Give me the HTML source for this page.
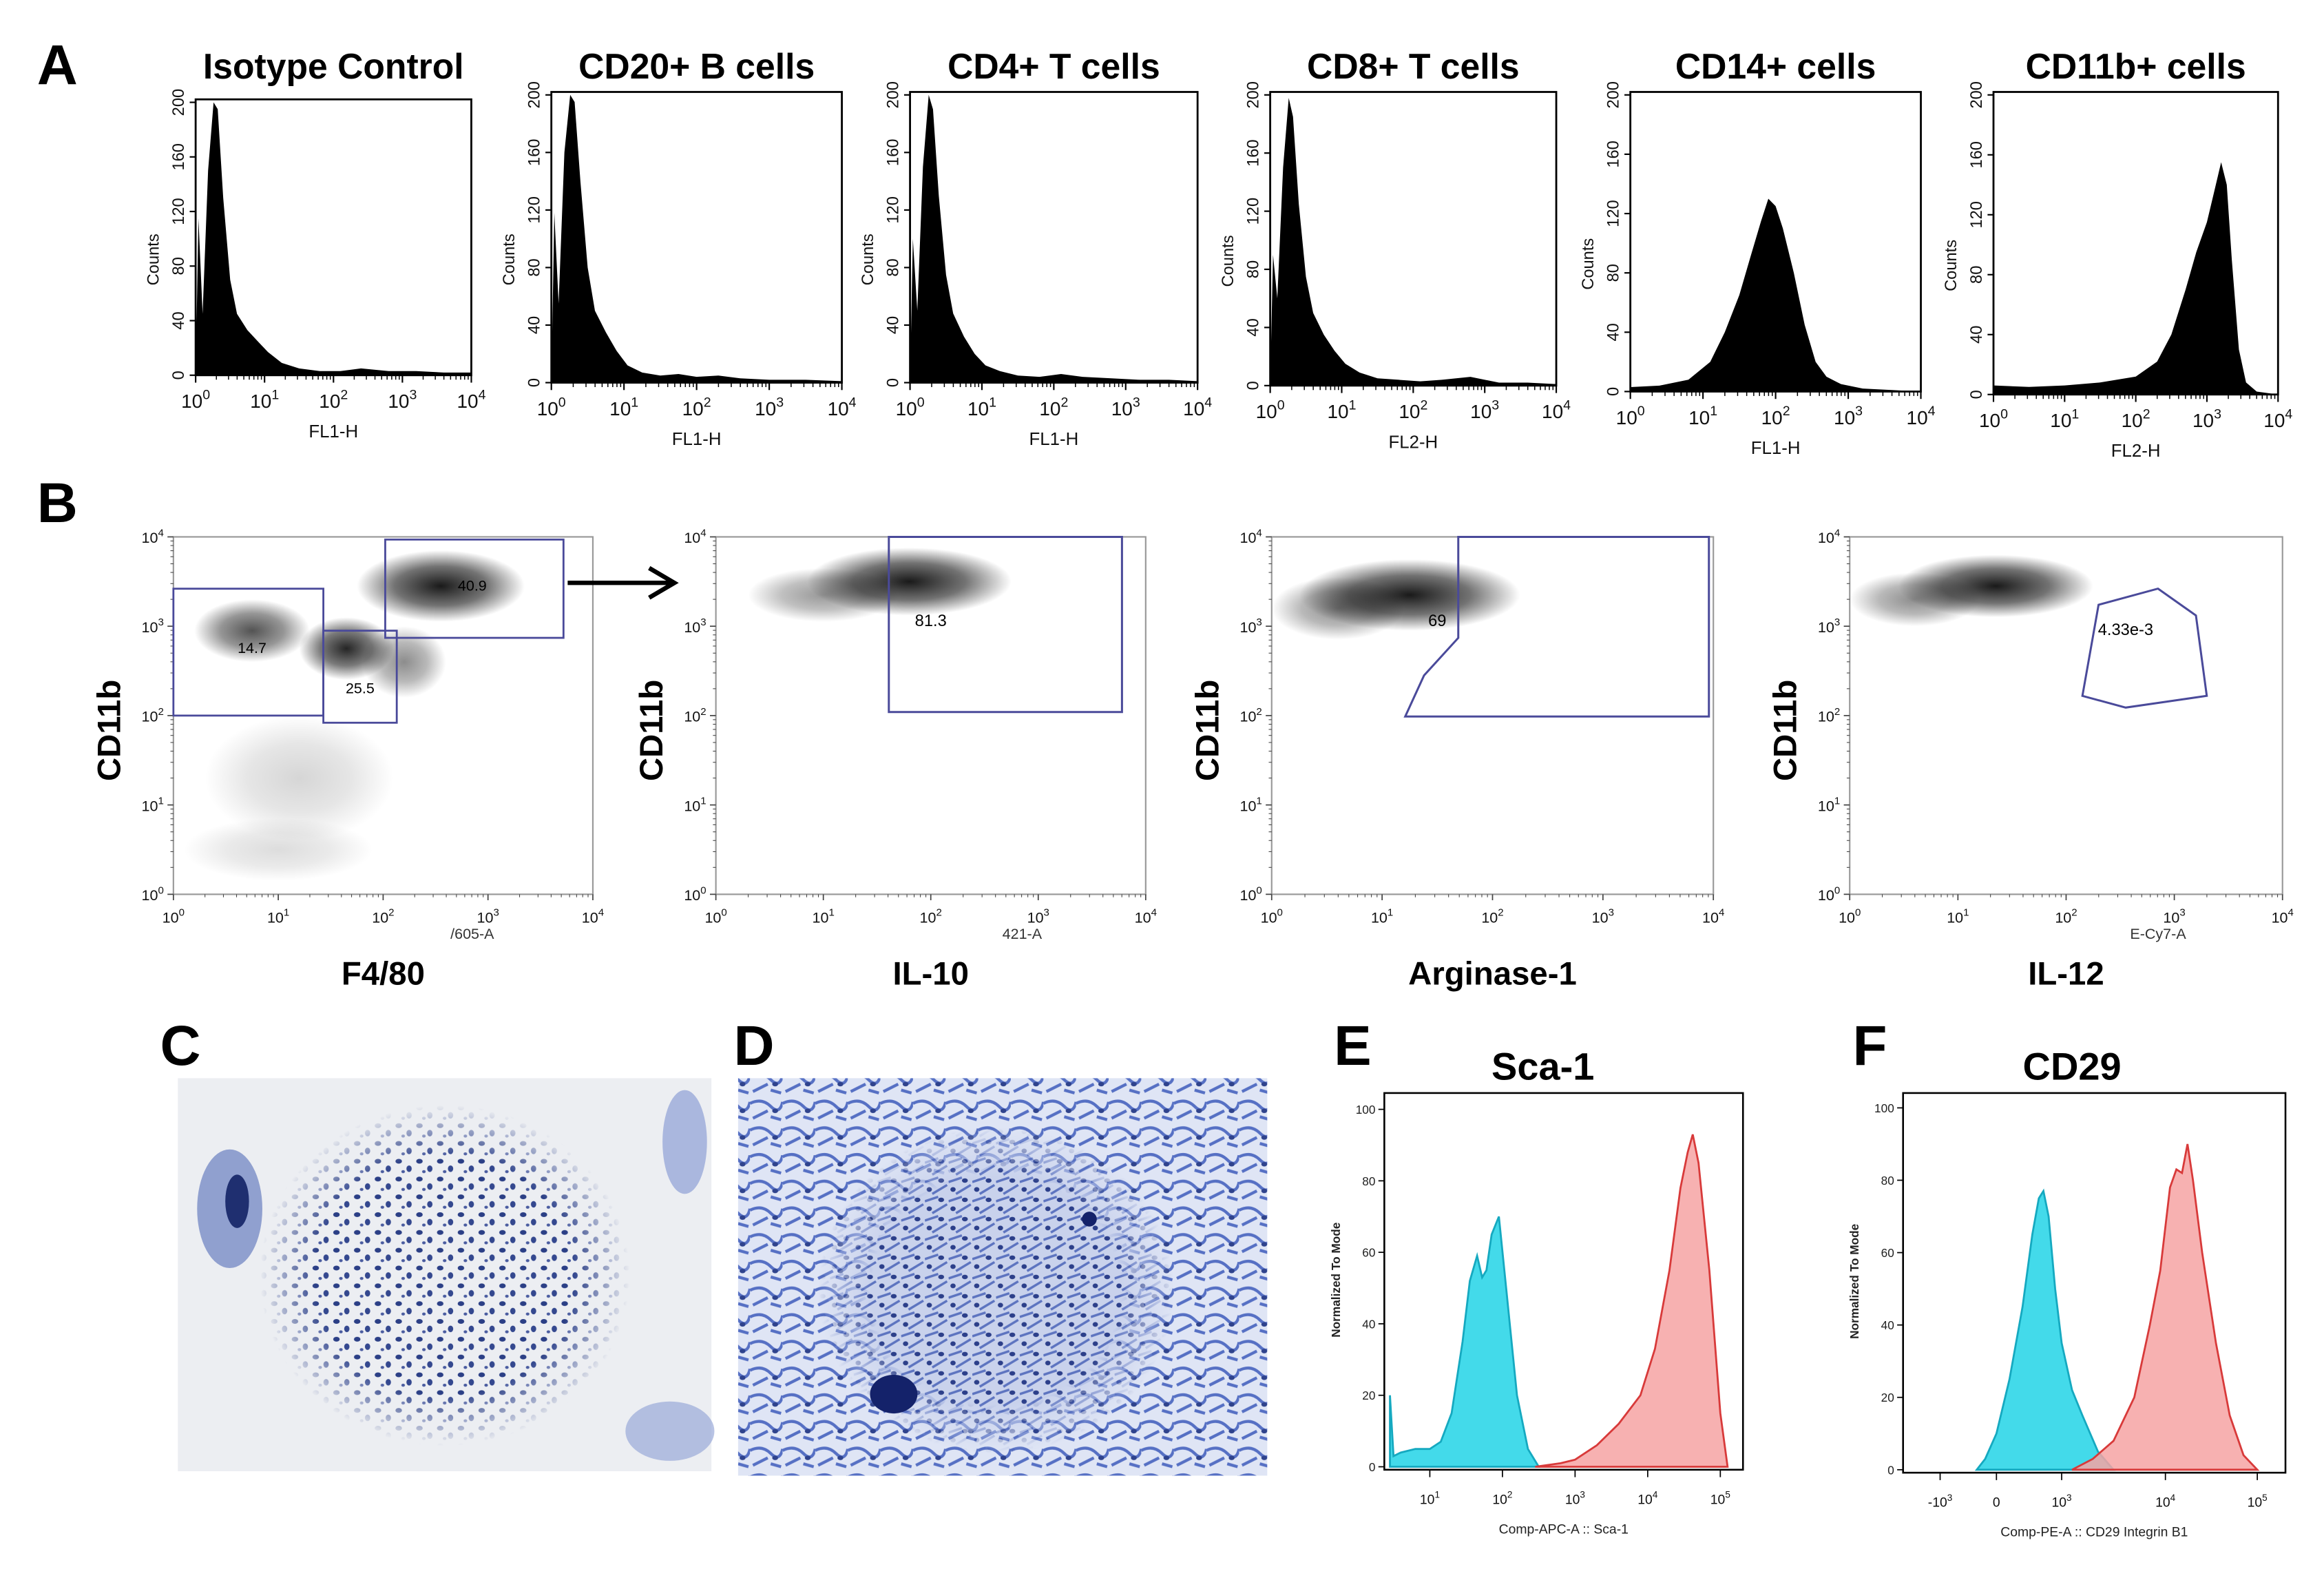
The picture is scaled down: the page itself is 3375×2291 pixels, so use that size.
<!DOCTYPE html>
<html><head><meta charset="utf-8"><style>
html,body{margin:0;padding:0;background:#fff;}
svg{display:block;font-family:"Liberation Sans",sans-serif;}
</style></head><body>
<svg id="fig" width="3375" height="2291" viewBox="0 0 1568 1064" preserveAspectRatio="none" xmlns="http://www.w3.org/2000/svg">
<defs>
<radialGradient id="dotg"><stop offset="0" stop-color="#000" stop-opacity="0.9"/><stop offset="0.55" stop-color="#000" stop-opacity="0.55"/><stop offset="1" stop-color="#000" stop-opacity="0"/></radialGradient>
<pattern id="cellsC" width="14" height="12" patternUnits="userSpaceOnUse">
<ellipse cx="3" cy="3" rx="2.2" ry="1.6" fill="#2b3f86"/><ellipse cx="10" cy="8" rx="1.8" ry="2.2" fill="#34488f"/><ellipse cx="6" cy="10" rx="1.2" ry="1" fill="#4a5ca0"/></pattern>
<pattern id="cellsD" width="16" height="13" patternUnits="userSpaceOnUse">
<rect width="16" height="13" fill="#c9d2ec"/><path d="M0 4 L9 1 M5 12 L15 6" stroke="#5d74c0" stroke-width="1.6"/><ellipse cx="11" cy="3" rx="2" ry="1.5" fill="#2c3f8a"/><ellipse cx="3" cy="9" rx="1.8" ry="1.6" fill="#2c3f8a"/></pattern>
<pattern id="streaksD" width="22" height="18" patternUnits="userSpaceOnUse">
<rect width="22" height="18" fill="#dfe5f5"/><path d="M0 6 Q8 2 14 8 T22 5 M2 16 L12 11 M14 15 L21 17" stroke="#5670c4" stroke-width="2" fill="none"/><ellipse cx="17" cy="11" rx="2" ry="1.5" fill="#2f438d"/></pattern>
<radialGradient id="fadeC"><stop offset="0" stop-color="#fff" stop-opacity="1"/><stop offset="0.7" stop-color="#fff" stop-opacity="1"/><stop offset="1" stop-color="#fff" stop-opacity="0"/></radialGradient>
<mask id="maskC"><ellipse cx="300" cy="860" rx="125" ry="115" fill="url(#fadeC)"/></mask>
<mask id="maskD"><ellipse cx="672" cy="870" rx="120" ry="110" fill="url(#fadeC)"/></mask>
</defs>
</svg>
<script>
const NS='http://www.w3.org/2000/svg';
const svg=document.getElementById('fig');
function mk(tag,attrs,parent){const e=document.createElementNS(NS,tag);for(const k in attrs)e.setAttribute(k,attrs[k]);(parent||svg).appendChild(e);return e;}

/* ---------- Panel A data ---------- */
const aTitles=['Isotype Control','CD20+ B cells','CD4+ T cells','CD8+ T cells','CD14+ cells','CD11b+ cells'];
const aXLabels=['FL1-H','FL1-H','FL1-H','FL2-H','FL1-H','FL2-H'];
const aYTicks=[0,40,80,120,160,200];
const logTicks=[0,1,2,3,4];
const isoX=[0,0.04,0.1,0.18,0.26,0.32,0.4,0.5,0.6,0.75,0.9,1.05,1.25,1.5,1.8,2.1,2.4,2.8,3.2,3.6,4];
const isoY=[0,115,45,150,200,195,130,70,45,33,25,17,9,5,3,3,5,3,3,2,2];
const cd20X=[0,0.04,0.1,0.18,0.26,0.32,0.4,0.5,0.6,0.75,0.9,1.05,1.25,1.5,1.75,2.0,2.3,2.6,3,3.5,4];
const cd20Y=[0,118,55,160,200,195,140,80,50,35,22,12,7,5,6,4,5,3,2,2,1];
const cd4X=[0,0.04,0.1,0.18,0.26,0.32,0.4,0.5,0.6,0.75,0.9,1.05,1.25,1.5,1.8,2.1,2.4,2.8,3.2,3.6,4];
const cd4Y=[0,100,50,150,200,190,130,75,48,32,20,12,8,5,4,6,4,3,2,2,1];
const cd8X=[0,0.04,0.1,0.18,0.26,0.32,0.4,0.5,0.6,0.75,0.9,1.05,1.25,1.5,1.8,2.1,2.4,2.8,3.2,3.6,4];
const cd8Y=[0,90,60,150,198,185,125,75,50,35,24,15,9,5,4,3,4,6,2,2,1];
const cd14X=[0,0.4,0.8,1.1,1.3,1.5,1.65,1.8,1.9,2.0,2.1,2.25,2.4,2.55,2.7,2.9,3.2,3.6,4];
const cd14Y=[3,4,8,20,40,65,90,115,130,125,110,80,45,20,10,5,2,1,0];
const cd11X=[0,0.5,1,1.5,2,2.3,2.5,2.7,2.85,3.0,3.1,3.2,3.28,3.35,3.45,3.55,3.7,4];
const cd11Y=[6,5,6,8,12,22,40,70,95,115,135,155,140,90,30,8,2,0];
const aSeriesX=[isoX,cd20X,cd4X,cd8X,cd14X,cd11X];
const aSeriesY=[isoY,cd20Y,cd4Y,cd8Y,cd14Y,cd11Y];
const aBoxes=[[132,318,67,253],[372,568,62,258],[614,808,62,258],[857,1050,62,260],[1100,1296,62,264],[1345,1537,62,266]];

function supLabel(g,x,y,base,exp,fs,name){
  const t=mk('text',{x:x,y:y,'font-size':fs,'text-anchor':'middle',fill:'#111'},g);
  
  
  t.appendChild(document.createTextNode(base));
  const s=mk('tspan',{dy:-fs*0.45,'font-size':fs*0.7},t);
  s.textContent=exp;
  return t;
}

aBoxes.forEach((b,i)=>{
  const [x0,x1,y0,y1]=b;
  const g=mk('g',{});
  
  
  const xs=v=>x0+(x1-x0)*v/4;
  const ys=v=>y1-(y1-y0-2)*v/200;
  let d='M'+xs(aSeriesX[i][0])+' '+ys(0);
  aSeriesX[i].forEach((v,k)=>{d+=' L'+xs(v).toFixed(1)+' '+ys(aSeriesY[i][k]).toFixed(1);});
  d+=' L'+xs(aSeriesX[i][aSeriesX[i].length-1])+' '+ys(0)+' Z';
  const p=mk('path',{d:d,fill:'#000'},g);
  
  
  const r=mk('rect',{x:x0,y:y0,width:x1-x0,height:y1-y0,fill:'none',stroke:'#000','stroke-width':1.3},g);
  
  
  const tt=mk('text',{x:(x0+x1)/2,y:53,'font-size':24,'font-weight':'bold','text-anchor':'middle',fill:'#000'},g);
  
  
  tt.textContent=aTitles[i];
  aYTicks.forEach(v=>{
    mk('line',{x1:x0-4,x2:x0,y1:ys(v),y2:ys(v),stroke:'#000','stroke-width':1},g);
    const yt=mk('text',{x:0,y:0,'font-size':11,'text-anchor':'middle',fill:'#111',transform:'translate('+(x0-8)+','+ys(v)+') rotate(-90)'},g);
    
    
    yt.textContent=v;
  });
  const yl=mk('text',{x:0,y:0,'font-size':11,'text-anchor':'middle',fill:'#111',transform:'translate('+(x0-25)+','+((y0+y1)/2+15)+') rotate(-90)'},g);
  
  
  yl.textContent='Counts';
  logTicks.forEach(v=>{
    mk('line',{x1:xs(v),x2:xs(v),y1:y1,y2:y1+5,stroke:'#000','stroke-width':1},g);
    supLabel(g,xs(v),y1+22,'10',String(v),13,'x-tick-label');
    if(v<4)for(let m=2;m<10;m++){const xm=xs(v+Math.log10(m));mk('line',{x1:xm,x2:xm,y1:y1,y2:y1+3,stroke:'#000','stroke-width':0.7},g);}
  });
  const xl=mk('text',{x:(x0+x1)/2,y:y1+42,'font-size':12,'text-anchor':'middle',fill:'#111'},g);
  
  
  xl.textContent=aXLabels[i];
});

/* ---------- Panel B data ---------- */
const bXLabels=['F4/80','IL-10','Arginase-1','IL-12'];
const bSmall=['/605-A','421-A','','E-Cy7-A'];
const bBoxes=[[117,400,362,603],[483,773,362,603],[858,1156,362,603],[1248,1540,362,603]];
const b1ClX=[2.55,1.65,0.75,1.2,1.0,2.2];const b1ClY=[3.45,2.75,2.95,1.3,0.5,2.6];
const b1ClRX=[0.8,0.45,0.55,0.9,0.9,0.4];const b1ClRY=[0.4,0.35,0.35,0.7,0.35,0.4];const b1ClOp=[1,0.95,0.75,0.18,0.15,0.5];
const b2ClX=[1.8,1.0];const b2ClY=[3.5,3.35];const b2ClRX=[0.95,0.7];const b2ClRY=[0.38,0.3];const b2ClOp=[1,0.45];
const b3ClX=[1.25,0.6];const b3ClY=[3.35,3.2];const b3ClRX=[1.0,0.6];const b3ClRY=[0.4,0.35];const b3ClOp=[1,0.5];
const b4ClX=[1.35,0.6];const b4ClY=[3.45,3.3];const b4ClRX=[0.9,0.6];const b4ClRY=[0.35,0.3];const b4ClOp=[1,0.5];
const bClusters=[[b1ClX,b1ClY,b1ClRX,b1ClRY,b1ClOp],[b2ClX,b2ClY,b2ClRX,b2ClRY,b2ClOp],[b3ClX,b3ClY,b3ClRX,b3ClRY,b3ClOp],[b4ClX,b4ClY,b4ClRX,b4ClRY,b4ClOp]];
const b1GateRects=[[0,1.43,2.0,3.42],[1.43,2.13,1.92,2.95],[2.02,3.72,2.87,3.97]];
const b1GateLabels=['14.7','25.5','40.9'];const b1GateLabelPos=[[0.75,2.7],[1.78,2.25],[2.85,3.4]];
const b2GateX=[1.61,3.78,3.78,1.61];const b2GateY=[4,4,2.04,2.04];
const b3GateX=[1.69,1.69,1.38,1.21,3.96,3.96];const b3GateY=[4,2.87,2.45,1.99,1.99,4];
const b4GateX=[2.3,2.15,2.55,3.3,3.2,2.85];const b4GateY=[3.24,2.22,2.09,2.22,3.12,3.42];
const bGateLabels=['81.3','69','4.33e-3'];const bGateLabelPos=[[2.0,3.0],[1.5,3.0],[2.55,2.9]];

bBoxes.forEach((b,i)=>{
  const [x0,x1,y0,y1]=b;
  const g=mk('g',{});
  
  
  const xs=v=>x0+(x1-x0)*v/4;
  const ys=v=>y1-(y1-y0)*v/4;
  const cl=bClusters[i];
  cl[0].forEach((cx,k)=>{
    const e=mk('ellipse',{cx:xs(cx),cy:ys(cl[1][k]),rx:(x1-x0)*cl[2][k]/4,ry:(y1-y0)*cl[3][k]/4,fill:'url(#dotg)',opacity:cl[4][k]},g);
    
    
  });
  const r=mk('rect',{x:x0,y:y0,width:x1-x0,height:y1-y0,fill:'none',stroke:'#999','stroke-width':1},g);
  
  
  logTicks.forEach(v=>{
    mk('line',{x1:xs(v),x2:xs(v),y1:y1,y2:y1+4,stroke:'#444','stroke-width':0.8},g);
    supLabel(g,xs(v),y1+19,'10',String(v),10,'x-tick-label');
    mk('line',{x1:x0-4,x2:x0,y1:ys(v),y2:ys(v),stroke:'#444','stroke-width':0.8},g);
    supLabel(g,x0-14,ys(v)+4,'10',String(v),10,'y-tick-label');
    if(v<4)for(let m=2;m<10;m++){const q=v+Math.log10(m);mk('line',{x1:xs(q),x2:xs(q),y1:y1,y2:y1+2,stroke:'#444','stroke-width':0.5},g);mk('line',{x1:x0-2,x2:x0,y1:ys(q),y2:ys(q),stroke:'#444','stroke-width':0.5},g);}
  });
  const yl=mk('text',{x:0,y:0,'font-size':22,'font-weight':'bold','text-anchor':'middle',fill:'#000',transform:'translate('+(x0-36)+','+((y0+y1)/2+10)+') rotate(-90)'},g);
  
  
  yl.textContent='CD11b';
  const xl=mk('text',{x:(x0+x1)/2,y:664,'font-size':22,'font-weight':'bold','text-anchor':'middle',fill:'#000'},g);
  
  
  xl.textContent=bXLabels[i];
  if(bSmall[i]){const s=mk('text',{x:xs(2.85),y:y1+30,'font-size':10,'text-anchor':'middle',fill:'#333'},g);
    
    
    s.textContent=bSmall[i];}
  const gs='#4a4a9a';
  if(i===0){
    b1GateRects.forEach((q,k)=>{
      const gr=mk('rect',{x:xs(q[0]),y:ys(q[3]),width:xs(q[1])-xs(q[0]),height:ys(q[2])-ys(q[3]),fill:'none',stroke:gs,'stroke-width':1.3},g);
      
      
      const lt=mk('text',{x:xs(b1GateLabelPos[k][0]),y:ys(b1GateLabelPos[k][1]),'font-size':10,'text-anchor':'middle',fill:'#000'},g);
      
      
      lt.textContent=b1GateLabels[k];
    });
  } else {
    const gx=[b2GateX,b3GateX,b4GateX][i-1],gy=[b2GateY,b3GateY,b4GateY][i-1];
    const pts=gx.map((v,k)=>xs(v).toFixed(1)+','+ys(gy[k]).toFixed(1)).join(' ');
    const pg=mk('polygon',{points:pts,fill:'none',stroke:gs,'stroke-width':1.4},g);
    
    
    const lt=mk('text',{x:xs(bGateLabelPos[i-1][0]),y:ys(bGateLabelPos[i-1][1]),'font-size':11,'text-anchor':'middle',fill:'#000'},g);
    
    
    lt.textContent=bGateLabels[i-1];
  }
});
const ar=mk('path',{d:'M383 393 L452 393 M438 383 L455 393 L438 403',stroke:'#000','stroke-width':3,fill:'none'});



/* ---------- Panels C, D (micrographs) ---------- */
const cImg=mk('g',{});


mk('rect',{x:120,y:727,width:360,height:265,fill:'#eceef2'},cImg);
mk('rect',{x:120,y:727,width:360,height:265,fill:'url(#cellsC)',mask:'url(#maskC)'},cImg);
mk('ellipse',{cx:155,cy:815,rx:22,ry:40,fill:'#6a7fc0',opacity:0.7},cImg);
mk('ellipse',{cx:160,cy:810,rx:8,ry:18,fill:'#1f2f70'},cImg);
mk('ellipse',{cx:462,cy:770,rx:15,ry:35,fill:'#8ea0d6',opacity:0.7},cImg);
mk('ellipse',{cx:452,cy:965,rx:30,ry:20,fill:'#9aa9d8',opacity:0.7},cImg);
const dImg=mk('g',{});


mk('rect',{x:498,y:727,width:357,height:268,fill:'url(#streaksD)'},dImg);
mk('rect',{x:498,y:727,width:357,height:268,fill:'url(#cellsD)',mask:'url(#maskD)'},dImg);
mk('ellipse',{cx:603,cy:940,rx:16,ry:13,fill:'#14226a'},dImg);
mk('ellipse',{cx:735,cy:822,rx:5,ry:5,fill:'#14226a'},dImg);

/* ---------- Panels E, F ---------- */
const eCyanX=[0.45,0.5,0.6,0.8,1.0,1.15,1.3,1.45,1.55,1.65,1.72,1.78,1.85,1.95,2.05,2.2,2.35,2.5];
const eCyanY=[20,3,4,5,5,7,15,35,52,59,53,55,65,70,50,20,5,0];
const eRedX=[2.45,2.8,3.0,3.3,3.6,3.9,4.1,4.3,4.45,4.55,4.62,4.7,4.85,5.0,5.1];
const eRedY=[0,1,2,6,12,20,33,55,78,88,93,85,55,15,0];
const fCyanX=[-0.35,-0.2,0,0.2,0.4,0.55,0.65,0.72,0.8,0.9,1.0,1.1,1.2,1.35,1.5];
const fCyanY=[0,3,10,25,45,65,75,77,70,50,35,22,15,5,0];
const fRedX=[1.1,1.3,1.5,1.7,1.85,1.95,2.05,2.12,2.18,2.24,2.3,2.4,2.55,2.7,2.85,3.0];
const fRedY=[0,3,8,20,40,55,78,83,82,90,80,60,35,15,4,0];
const eTicks=[1,2,3,4,5];
const fTicks=[-1,0,1,2,3];
const fTickText=[['-10','3'],['0',''],['10','3'],['10','4'],['10','5']];
const normTicks=[0,20,40,60,80,100];
const fTickPx=[1309,1347,1391,1461,1523];

function drawFlow(cfg){
  const g=mk('g',{});
  
  
  const {x0,x1,yT,y0px,y100px}=cfg;
  const ys=v=>y0px-(y0px-y100px)*v/100;
  const xs=cfg.xs;
  [[cfg.cx,cfg.cy,'#22d3e6','#15a9c0','cyan-control-histogram'],[cfg.rx,cfg.ry,'#f6a3a3','#d83a3a','red-stained-histogram']].forEach(s=>{
    let d='M'+xs(s[0][0]).toFixed(1)+' '+ys(0);
    s[0].forEach((v,k)=>{d+=' L'+xs(v).toFixed(1)+' '+ys(s[1][k]).toFixed(1);});
    d+=' L'+xs(s[0][s[0].length-1]).toFixed(1)+' '+ys(0)+' Z';
    const p=mk('path',{d:d,fill:s[2],'fill-opacity':0.85,stroke:s[3],'stroke-width':1.3},g);
    
    
  });
  const r=mk('rect',{x:x0,y:yT,width:x1-x0,height:y0px-yT+2,fill:'none',stroke:'#000','stroke-width':1.2},g);
  
  
  normTicks.forEach(v=>{
    mk('line',{x1:x0-4,x2:x0,y1:ys(v),y2:ys(v),stroke:'#000','stroke-width':0.8},g);
    const t=mk('text',{x:x0-6,y:ys(v)+3,'font-size':8,'text-anchor':'end',fill:'#222'},g);
    
    
    t.textContent=v;
  });
  cfg.ticks.forEach((v,k)=>{
    mk('line',{x1:xs(v),x2:xs(v),y1:y0px+2,y2:y0px+7,stroke:'#000','stroke-width':0.8},g);
    const lab=cfg.tickText(k);
    supLabel(g,xs(v),y0px+25,lab[0],lab[1],9,'x-tick-label');
  });
  const yl=mk('text',{x:0,y:0,'font-size':8,'font-weight':'bold','text-anchor':'middle',fill:'#222',transform:'translate('+(x0-30)+','+((yT+y0px)/2)+') rotate(-90)'},g);
  
  
  yl.textContent='Normalized To Mode';
  const xl=mk('text',{x:(x0+x1)/2,y:y0px+45,'font-size':9,'text-anchor':'middle',fill:'#222'},g);
  
  
  xl.textContent=cfg.xlabel;
  const tt=mk('text',{x:(x0+x1)/2+cfg.tdx,y:728,'font-size':26,'font-weight':'bold','text-anchor':'middle',fill:'#000'},g);
  
  
  tt.textContent=cfg.title;
}
drawFlow({name:'panel-e-sca1',x0:934,x1:1176,yT:737,y0px:989,y100px:748,
  xs:v=>964.7+(v-1)*49,cx:eCyanX,cy:eCyanY,rx:eRedX,ry:eRedY,ticks:eTicks,
  tickText:k=>['10',String(eTicks[k])],xlabel:'Comp-APC-A :: Sca-1',title:'Sca-1',tdx:-14});
drawFlow({name:'panel-f-cd29',x0:1284,x1:1542,yT:737,y0px:991,y100px:747,
  xs:v=>{const i=Math.max(0,Math.min(3,Math.floor(v+1)));const a=fTickPx[i],b=fTickPx[i+1];return a+(b-a)*(v-fTicks[i]);},
  cx:fCyanX,cy:fCyanY,rx:fRedX,ry:fRedY,ticks:fTicks,
  tickText:k=>fTickText[k],xlabel:'Comp-PE-A :: CD29  Integrin B1',title:'CD29',tdx:-15});

/* ---------- panel letters ---------- */
const letters=['A','B','C','D','E','F'];
const letterX=[25,25,108,495,900,1250];
const letterY=[57,352,718,718,718,718];
letters.forEach((L,i)=>{
  const t=mk('text',{x:letterX[i],y:letterY[i],'font-size':38,'font-weight':'bold',fill:'#000'});
  
  
  t.textContent=L;
});
</script>
</body></html>
